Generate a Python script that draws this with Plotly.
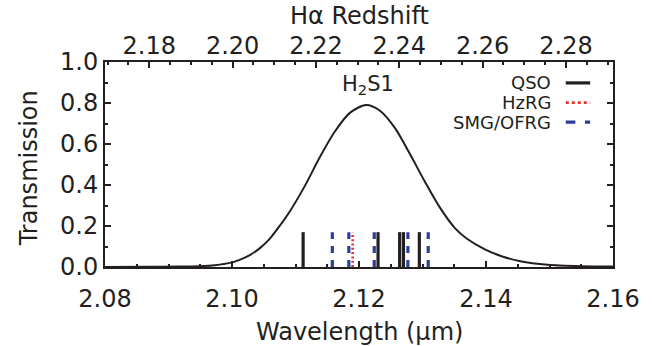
import plotly.graph_objects as go

# Rest wavelength of H-alpha in microns, used for the redshift axis
HALPHA_REST = 0.65628

# H2S1 narrow-band filter transmission curve
wave_filter = [2.0800, 2.0870, 2.0918, 2.0949, 2.0973, 2.0997, 2.1012, 2.1028,
               2.1044, 2.1060, 2.1075, 2.1091, 2.1115, 2.1138, 2.1162, 2.1186,
               2.1211, 2.1233, 2.1257, 2.1280, 2.1304, 2.1328, 2.1351, 2.1370,
               2.1399, 2.1427, 2.1454, 2.1497, 2.1549, 2.1600]
trans_filter = [0.0005, 0.001, 0.002, 0.004, 0.009, 0.020, 0.035, 0.058,
                0.092, 0.140, 0.200, 0.271, 0.397, 0.534, 0.661, 0.753,
                0.790, 0.762, 0.676, 0.552, 0.415, 0.287, 0.190, 0.138,
                0.085, 0.050, 0.028, 0.011, 0.004, 0.002]

# Observed H-alpha wavelengths of the targets (microns)
qso_wave = [2.1112, 2.1230, 2.1264, 2.1270, 2.1295]
hzrg_wave = [2.1190]
smg_wave = [2.1158, 2.1184, 2.1224, 2.1277, 2.1309]
marker_height = 0.17

# Axis ticks
wave_ticks = [2.08, 2.10, 2.12, 2.14, 2.16]
z_ticks = [2.18, 2.20, 2.22, 2.24, 2.26, 2.28]
trans_ticks = [0.0, 0.2, 0.4, 0.6, 0.8, 1.0]

INK = "#231f20"
FONT = "DejaVu Sans"


def to_z(w):
    return w / HALPHA_REST - 1.0


def spikes(waves, h):
    xs, ys = [], []
    for w in waves:
        xs += [w, w, None]
        ys += [0.0, h, None]
    return xs, ys


fig = go.Figure()

fig.add_trace(go.Scatter(
    x=wave_filter, y=trans_filter, mode="lines",
    line=dict(color=INK, width=2, shape="spline", smoothing=0.8),
    showlegend=False, hoverinfo="skip"))

for waves, color, dash, width in [
    (smg_wave, "#2f3d9c", "7px,7px", 3.2),
    (hzrg_wave, "#e8312f", "2px,2.3px", 2.6),
    (qso_wave, INK, "solid", 3.2),
]:
    xs, ys = spikes(waves, marker_height)
    fig.add_trace(go.Scatter(
        x=xs, y=ys, mode="lines",
        line=dict(color=color, width=width, dash=dash),
        showlegend=False, hoverinfo="skip"))

# invisible trace carrying the redshift axis
fig.add_trace(go.Scatter(
    x=[to_z(w) for w in wave_filter], y=trans_filter, xaxis="x2",
    mode="lines", line=dict(color="rgba(0,0,0,0)"),
    showlegend=False, hoverinfo="skip"))

axis_common = dict(
    showline=True, linecolor=INK, linewidth=2,
    ticks="inside", tickcolor=INK, tickwidth=1.5, ticklen=6,
    showgrid=False, zeroline=False,
    tickfont=dict(family=FONT, size=24, color=INK),
)

fig.update_layout(
    width=654, height=346,
    margin=dict(l=105, r=41, t=62, b=79),
    paper_bgcolor="white", plot_bgcolor="white",
    xaxis=dict(
        range=[2.08, 2.16], tickvals=wave_ticks, tickformat=".2f",
        ticklabelstandoff=9,
        minor=dict(dtick=0.005, tick0=2.08, ticks="inside", ticklen=3,
                   tickcolor=INK, tickwidth=1.5),
        **axis_common),
    xaxis2=dict(
        range=[to_z(2.08), to_z(2.16)], overlaying="x", side="top",
        anchor="y", tickvals=z_ticks, tickformat=".2f",
        ticklabelstandoff=-4,
        minor=dict(dtick=0.005, tick0=2.18, ticks="inside", ticklen=3,
                   tickcolor=INK, tickwidth=1.5),
        **axis_common),
    yaxis=dict(
        range=[0.0, 1.0], tickvals=trans_ticks, tickformat=".1f",
        mirror="ticks",
        minor=dict(dtick=0.1, tick0=0.0, ticks="inside", ticklen=3,
                   tickcolor=INK, tickwidth=1.5),
        **axis_common),
)

title_font = dict(family=FONT, size=24, color=INK)
annotations = [
    dict(text="Wavelength (μm)", x=0.5, y=-0.315, xref="paper", yref="paper",
         showarrow=False, font=title_font, xanchor="center", yanchor="middle"),
    dict(text="Hα Redshift", x=0.5, y=1.224, xref="paper", yref="paper",
         showarrow=False, font=title_font, xanchor="center", yanchor="middle"),
    dict(text="Transmission", x=-0.149, y=0.483, xref="paper", yref="paper",
         showarrow=False, font=title_font, textangle=-90,
         xanchor="center", yanchor="middle"),
    dict(text="H<sub>2</sub>S1", x=0.517, y=0.89, xref="paper", yref="paper",
         showarrow=False, font=dict(family=FONT, size=21, color=INK),
         xanchor="center", yanchor="middle"),
]

# legend: labels on the left, line samples on the right
legend_rows = [("QSO", INK, "solid", 3.2, 0.898),
               ("HzRG", "#e8312f", "dot", 2.6, 0.802),
               ("SMG/OFRG", "#2f3d9c", "dash", 3.2, 0.707)]
shapes = []
for label, color, dash, width, ypos in legend_rows:
    annotations.append(dict(
        text=label, x=0.881, y=ypos, xref="paper", yref="paper",
        showarrow=False, font=dict(family=FONT, size=18, color=INK),
        xanchor="right", yanchor="middle"))
    shapes.append(dict(
        type="line", xref="paper", yref="paper", x0=0.907, x1=0.955,
        y0=ypos, y1=ypos, line=dict(color=color, width=width, dash=dash)))

fig.update_layout(annotations=annotations, shapes=shapes)

fig.write_html("out.html")
